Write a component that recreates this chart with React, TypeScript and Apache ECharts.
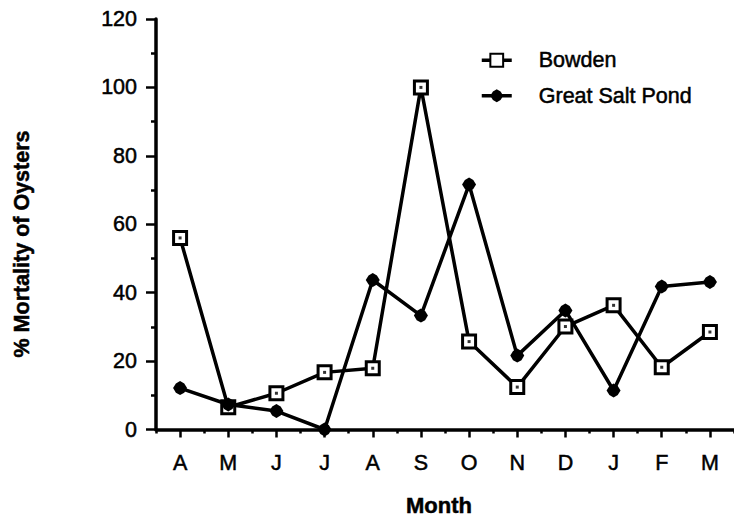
import React, { useEffect, useRef } from "react";
import * as echarts from "echarts";

const months = ["A", "M", "J", "J", "A", "S", "O", "N", "D", "J", "F", "M"];
const bowden = [56, 6.5, 10.6, 16.7, 17.9, 100, 25.7, 12.4, 30.1, 36.3, 18.2, 28.5];
const greatSaltPond = [12.1, 7.3, 5.4, 0, 43.7, 33.3, 71.6, 21.6, 34.8, 11.4, 41.8, 43.1];
const yTicks = { min: 0, max: 120, interval: 20 };

const FONT = "'Liberation Sans', Arial, Helvetica, sans-serif";
const BLOB = "path://M0,-10 L6,-6.5 L10,0 L6,6.5 L0,10 L-6,6.5 L-10,0 L-6,-6.5 Z";
const thick = { textBorderColor: "#000", textBorderWidth: 0.5 };

export default function App() {
  const ref = useRef<HTMLDivElement>(null);
  useEffect(() => {
    if (!ref.current) return;
    const chart = echarts.init(ref.current, undefined, { renderer: "svg" });
    chart.setOption({
      animation: false,
      backgroundColor: "#ffffff",
      textStyle: { fontFamily: FONT, color: "#000" },
      grid: { left: 156, top: 19, width: 581, height: 410.5, containLabel: false },
      legend: {
        orient: "vertical",
        left: 475,
        top: 44,
        itemWidth: 30,
        itemHeight: 16,
        itemGap: 13,
        data: ["Bowden", "Great Salt Pond"],
        lineStyle: { width: 3.5, color: "#000" },
        textStyle: { fontSize: 21.5, color: "#000", fontFamily: FONT, padding: [0, 0, 0, 22], lineHeight: 22, ...thick },
      },
      xAxis: [
        {
          type: "category",
          data: months,
          position: "bottom",
          boundaryGap: true,
          axisLine: { show: true, lineStyle: { color: "#000", width: 3.5 } },
          axisTick: { show: true, alignWithLabel: true, interval: 0, length: 8, lineStyle: { color: "#000", width: 2.5 } },
          axisLabel: { interval: 0, margin: 22, fontSize: 21.5, color: "#000", fontFamily: FONT, ...thick },
          splitLine: { show: false },
        },
        {
          type: "category",
          data: months,
          position: "bottom",
          boundaryGap: true,
          axisLine: { show: false },
          axisTick: { show: true, alignWithLabel: false, interval: 0, length: 4, lineStyle: { color: "#000", width: 2.5 } },
          axisLabel: { show: false },
          splitLine: { show: false },
        },
      ],
      yAxis: {
        type: "value",
        min: yTicks.min,
        max: yTicks.max,
        interval: yTicks.interval,
        axisLine: { show: true, lineStyle: { color: "#000", width: 3.5 } },
        axisTick: { show: true, length: 10, lineStyle: { color: "#000", width: 2.5 } },
        minorTick: { show: true, splitNumber: 2, length: 5, lineStyle: { color: "#000", width: 2.5 } },
        axisLabel: { margin: 19, fontSize: 21.5, color: "#000", fontFamily: FONT, ...thick },
        splitLine: { show: false },
      },
      graphic: [
        {
          type: "text",
          x: 439,
          y: 505.5,
          style: { text: "Month", font: `bold 22px ${FONT}`, fill: "#000", align: "center", verticalAlign: "middle", stroke: "#000", lineWidth: 0.5 },
        },
        {
          type: "text",
          x: 22,
          y: 244,
          rotation: Math.PI / 2,
          style: { text: "% Mortality of Oysters", font: `bold 21.5px ${FONT}`, fill: "#000", align: "center", verticalAlign: "middle", stroke: "#000", lineWidth: 0.5 },
        },
      ],
      series: [
        {
          name: "Bowden",
          type: "line",
          data: bowden,
          symbol: "rect",
          symbolSize: 13,
          showAllSymbol: true,
          lineStyle: { color: "#000", width: 3.5 },
          itemStyle: { color: "#fff", borderColor: "#000", borderWidth: 3 },
          z: 2,
        },
        {
          name: "BowdenDot",
          type: "scatter",
          data: bowden,
          symbol: "rect",
          symbolSize: 3,
          itemStyle: { color: "#000" },
          z: 3,
        },
        {
          name: "Great Salt Pond",
          type: "line",
          data: greatSaltPond,
          symbol: BLOB,
          symbolSize: 14,
          showAllSymbol: true,
          lineStyle: { color: "#000", width: 3.5 },
          itemStyle: { color: "#000" },
          z: 4,
        },
      ],
    });
    return () => chart.dispose();
  }, []);
  return <div ref={ref} style={{ position: "fixed", left: 0, top: 0, width: 734, height: 517 }} />;
}
